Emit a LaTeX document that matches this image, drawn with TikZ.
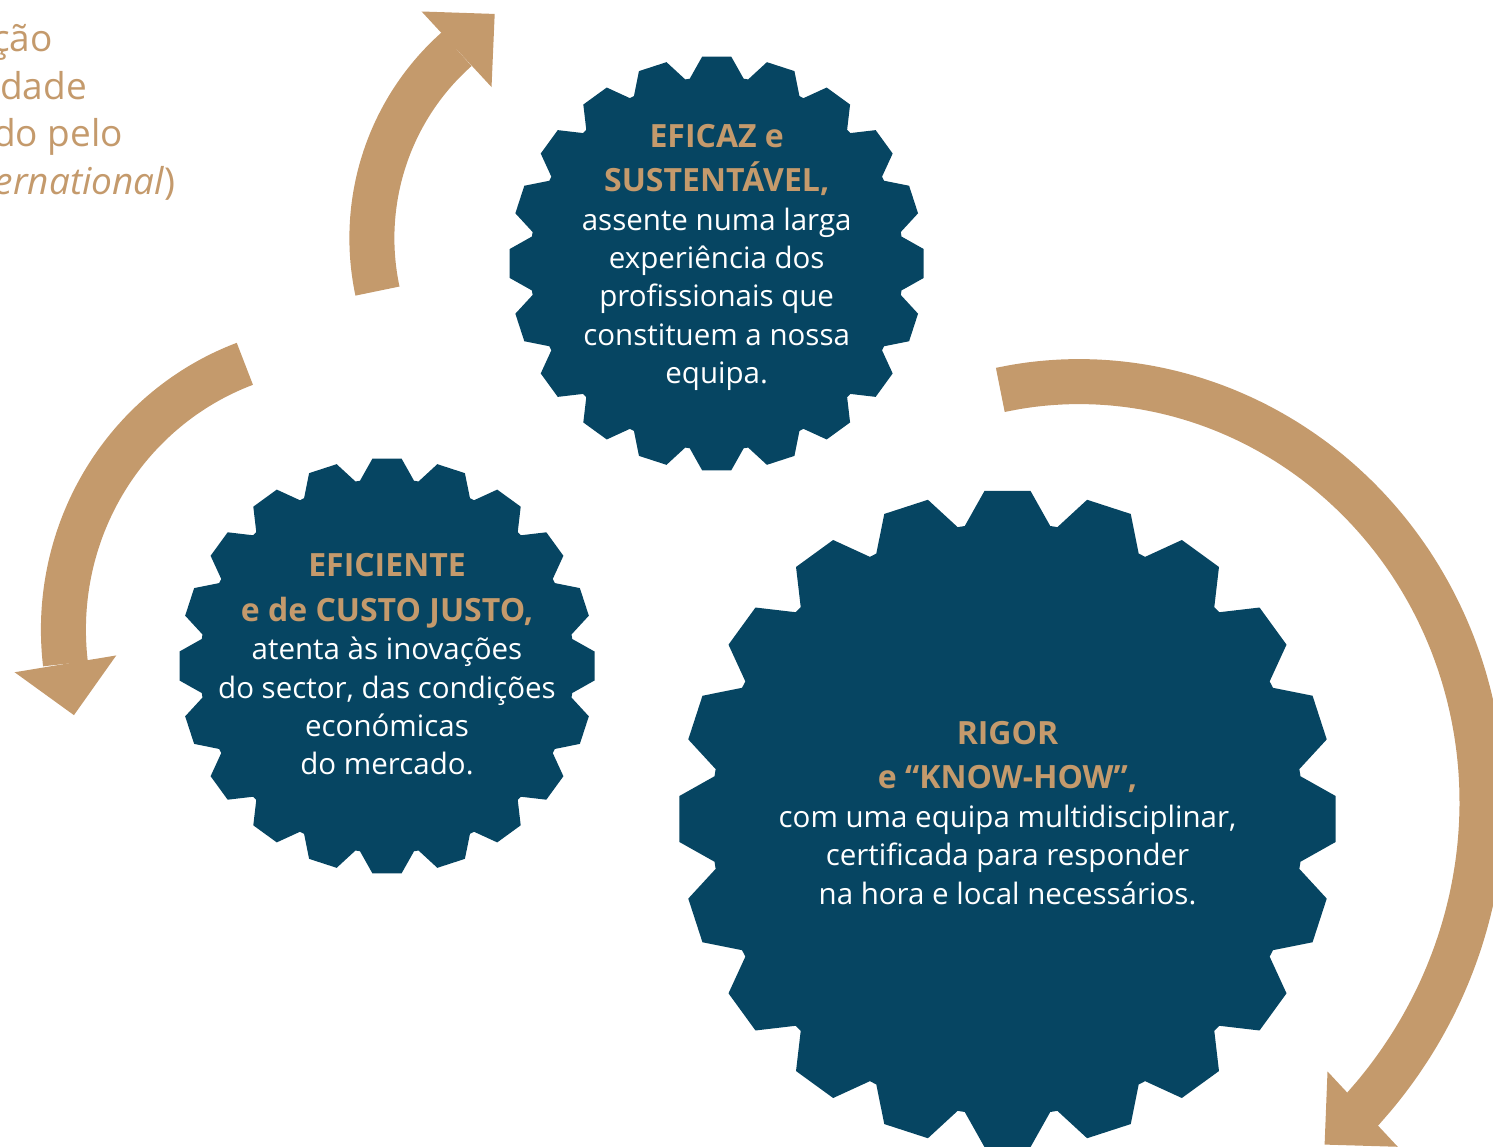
\documentclass[tikz,border=0pt]{standalone}
\usepackage{fontspec}
\setmainfont{Open Sans}
\usepackage{tikz}
\definecolor{cogblue}{HTML}{064562}
\definecolor{sand}{HTML}{C49A6C}
\usetikzlibrary{positioning, arrows.meta}
\tikzstyle{cyclearrow} = [draw=sand, line width=45pt, -{Triangle[width=103pt,length=52pt,line width=0pt]}]
\tikzstyle{cog} = [fill=cogblue]
\tikzstyle{cogtext} = [text=white, align=center, inner sep=0pt, anchor=north, font=\fontsize{29.5}{38.4}\selectfont]
\tikzstyle{side} = [text=sand, inner sep=0pt, anchor=base east, font=\fontsize{37}{48}\selectfont]
\newcommand{\head}[1]{{\fontsize{32}{38.4}\selectfont\bfseries\color{sand}#1}}

% gear with 20 teeth: centre, outer radius
\newcommand{\cogwheel}[2]{%
  \fill[cog, shift={(#1)}] (81:{0.9*#2})
    \foreach \a in {90,108,...,432} {
      -- ({\a-8.3}:{0.9*#2}) -- ({\a-4}:#2) -- ({\a+4}:#2) -- ({\a+8.3}:{0.9*#2})
    } -- cycle;}

% curved arrow: centre, start angle, end angle, start radius, end radius, tip direction
\newcommand{\swirl}[6]{%
  \draw[cyclearrow, shift={(#1)}]
    plot[domain=#2:#3, samples=60, smooth, variable=\t]
      ({(#4+(#5-#4)*(\t-(#2))/((#3)-(#2)))*cos(\t)},
       {(#4+(#5-#4)*(\t-(#2))/((#3)-(#2)))*sin(\t)})
    -- ++(#6:52);}

\begin{document}
\begin{tikzpicture}[x=1pt, y=1pt]
  \useasboundingbox (0,0) rectangle (1493,-1147);
  \clip (0,0) rectangle (1493,-1147);

  % centres of the gears and of the arrows
  \coordinate (c1) at (716.7,-263.5);
  \coordinate (c2) at (387,-666);
  \coordinate (c3) at (1007.5,-819);
  \coordinate (a1) at (626.4,-232.7);
  \coordinate (a2) at (354.5,-616);
  \coordinate (a3) at (1038,-761);

  % text cut off at the left edge
  \node[side] (frag1) at (53,-51.7) {ção};
  \node[side] (frag2) at (87,-100) {dade};
  \node[side] (frag3) at (123,-146.7) {do pelo};
  \node[side] (frag4) at (176,-195) {\textit{ernational})};

  \swirl{a1}{193.2}{132.8}{255.7}{250}{42.8}
  \swirl{a2}{113.5}{189.4}{275}{293}{279.4}
  \swirl{a3}{95.8}{-47}{373}{476}{223}

  \cogwheel{c1}{207.5}
  \cogwheel{c2}{208}
  \cogwheel{c3}{329}

  \node[cogtext] (eficaz) at ([yshift=139.5]c1)
    {\head{EFICAZ e}\\[6pt] \head{SUSTENTÁVEL,}\\ assente numa larga\\ experiência dos\\
     profissionais que\\ constituem a nossa\\ equipa.};
  \node[cogtext] (eficiente) at ([yshift=112.5]c2)
    {\head{EFICIENTE}\\[6pt] \head{e de CUSTO JUSTO,}\\ atenta às inovações\\
     do sector, das condições\\ económicas\\ do mercado.};
  \node[cogtext] (rigor) at ([yshift=98]c3)
    {\head{RIGOR}\\[6pt] \head{e “KNOW-HOW”,}\\ com uma equipa multidisciplinar,\\
     certificada para responder\\ na hora e local necessários.};
\end{tikzpicture}
\end{document}
